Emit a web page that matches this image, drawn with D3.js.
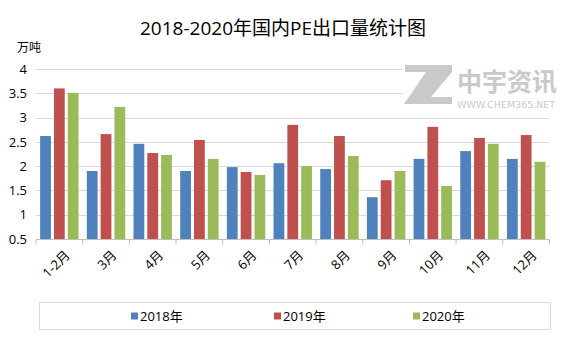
<!DOCTYPE html>
<html>
<head>
<meta charset="utf-8">
<script src="https://cdn.jsdelivr.net/npm/d3@7"></script>
<style>
  html, body { margin: 0; padding: 0; background: #fff; }
  svg { display: block; font-family: "Open Sans", "Noto Sans CJK SC", sans-serif; }
</style>
</head>
<body>
<svg id="chart" width="567" height="340"></svg>
<script>
// Monthly PE export volume (10k tonnes), 2018–2020
const categories = ["1-2月", "3月", "4月", "5月", "6月", "7月", "8月", "9月", "10月", "11月", "12月"];
const seriesNames = ["2018年", "2019年", "2020年"];
const values2018 = [2.62, 1.90, 2.46, 1.90, 1.98, 2.06, 1.94, 1.36, 2.15, 2.31, 2.15];
const values2019 = [3.60, 2.66, 2.27, 2.54, 1.88, 2.85, 2.62, 1.71, 2.81, 2.58, 2.64];
const values2020 = [3.51, 3.22, 2.23, 2.15, 1.82, 2.00, 2.21, 1.90, 1.59, 2.46, 2.09];
const yTicks = [0.5, 1, 1.5, 2, 2.5, 3, 3.5, 4];
const colors = ["#4F81BD", "#C0504D", "#9BBB59"];

const seriesValues = [values2018, values2019, values2020];
const svg = d3.select("#chart");

const plot = { left: 36, right: 549.5, top: 69, bottom: 239 };

const x = d3.scaleBand().domain(categories).range([plot.left, plot.right]).paddingInner(0).paddingOuter(0);
const xSeries = d3.scaleBand().domain(seriesNames).range([0, x.bandwidth()]).paddingInner(0.22).paddingOuter(0.3);
const y = d3.scaleLinear().domain([0.5, 4]).range([plot.bottom, plot.top]);

// Title and unit
svg.append("text")
  .attr("x", 283).attr("y", 35)
  .attr("text-anchor", "middle")
  .attr("font-size", 19)
  .attr("fill", "#000")
  .text("2018-2020年国内PE出口量统计图");

svg.append("text")
  .attr("x", 17).attr("y", 52)
  .attr("font-size", 12)
  .attr("fill", "#000")
  .text("万吨");

// Gridlines
svg.append("g")
  .selectAll("line")
  .data(yTicks.filter(t => t > 0.5))
  .join("line")
  .attr("x1", plot.left).attr("x2", plot.right)
  .attr("y1", d => Math.round(y(d)) + 0.5).attr("y2", d => Math.round(y(d)) + 0.5)
  .attr("stroke", "#d9d9d9").attr("stroke-width", 1);

// Y axis labels
const yAxis = svg.append("g")
  .attr("transform", `translate(${plot.left},0)`)
  .call(d3.axisLeft(y).tickValues(yTicks).tickSize(0).tickPadding(9).tickFormat(d3.format("")));
yAxis.select(".domain").remove();
yAxis.selectAll("text").attr("font-size", 13).attr("fill", "#000")
  .attr("font-family", "\"Open Sans\", sans-serif");

// Watermark logo
const wm = svg.append("g").attr("fill", "#c9c9c9");
wm.append("rect").attr("x", 402).attr("y", 60).attr("width", 160).attr("height", 50).attr("fill", "#fff").attr("opacity", 0.9);
wm.append("path")
  .attr("d", [
    "M405,65 L452,65 L452,72 L405,72 Z",
    "M426,72 L441,72 L418,104 L404,104 Z",
    "M437,72 L452,72 L431,97 L452,97 L452,104 L416,104 Z"
  ].join(" "));
wm.append("text")
  .attr("x", 457).attr("y", 91)
  .attr("font-size", 25).attr("font-weight", "bold")
  .attr("font-family", "\"Noto Sans CJK SC\", sans-serif")
  .text("中宇资讯");
wm.append("text")
  .attr("x", 457).attr("y", 108)
  .attr("font-size", 9.5)
  .attr("font-family", "\"DejaVu Sans\", sans-serif")
  .text("WWW.CHEM365.NET");

// Bars
const groups = svg.append("g")
  .selectAll("g")
  .data(seriesNames.map((name, i) => ({ name, color: colors[i], values: seriesValues[i] })))
  .join("g")
  .attr("fill", d => d.color);

groups.selectAll("rect")
  .data(d => d.values.map((v, j) => ({ series: d.name, cat: categories[j], v })))
  .join("rect")
  .attr("x", d => x(d.cat) + xSeries(d.series))
  .attr("width", xSeries.bandwidth())
  .attr("y", d => y(d.v))
  .attr("height", d => y(0.5) - y(d.v));

// X axis
const xAxis = svg.append("g")
  .attr("transform", `translate(0,${plot.bottom + 0.5})`);
xAxis.append("line")
  .attr("x1", plot.left).attr("x2", plot.right)
  .attr("stroke", "#bfbfbf");
xAxis.selectAll("line.tick")
  .data(categories.concat(["__end"]))
  .join("line")
  .attr("class", "tick")
  .attr("x1", (d, i) => i < categories.length ? x(d) : plot.right)
  .attr("x2", (d, i) => i < categories.length ? x(d) : plot.right)
  .attr("y1", 0).attr("y2", 5)
  .attr("stroke", "#bfbfbf");
xAxis.selectAll("text")
  .data(categories)
  .join("text")
  .attr("transform", d => `translate(${x(d) + x.bandwidth() / 2 + 5},${10}) rotate(-45)`)
  .attr("text-anchor", "end")
  .attr("dy", "0.7em")
  .attr("font-size", 13)
  .attr("fill", "#000")
  .text(d => d);

// Legend
const legend = svg.append("g");
legend.append("rect")
  .attr("x", 39.5).attr("y", 302.5).attr("width", 511).attr("height", 27)
  .attr("fill", "#fff").attr("stroke", "#d9d9d9");
const legendX = [131, 274, 413];
const items = legend.selectAll("g.item")
  .data(seriesNames)
  .join("g")
  .attr("class", "item")
  .attr("transform", (d, i) => `translate(${legendX[i]},316)`);
items.append("rect")
  .attr("x", 0).attr("y", -3.5).attr("width", 7).attr("height", 7)
  .attr("fill", (d, i) => colors[i]);
items.append("text")
  .attr("x", 9).attr("y", 5)
  .attr("font-size", 13)
  .attr("fill", "#000")
  .text(d => d);
</script>
</body>
</html>
